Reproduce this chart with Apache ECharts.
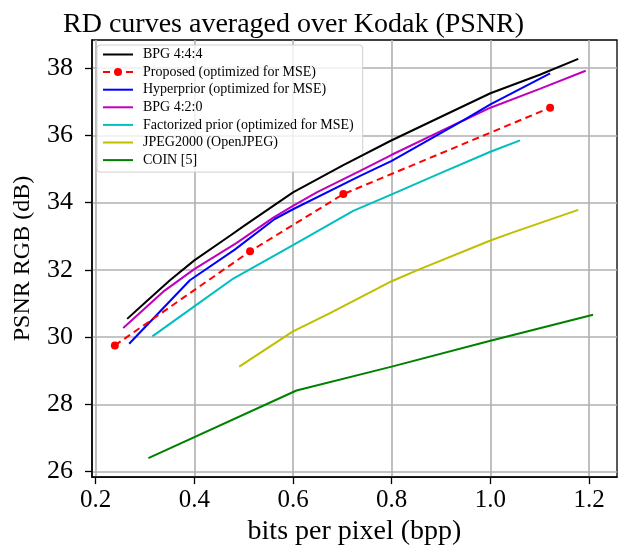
<!DOCTYPE html>
<html><head><meta charset="utf-8">
<script src="https://cdn.jsdelivr.net/npm/echarts@6/dist/echarts.min.js"></script>
<style>html,body{margin:0;padding:0;background:#fff}#c{width:633px;height:551px}</style>
</head><body><div id="c"></div>
<script>
const xTicks = [0.2, 0.4, 0.6, 0.8, 1.0, 1.2];
const yTicks = [26, 28, 30, 32, 34, 36, 38];

const bpg444X = [0.264, 0.3, 0.35, 0.4, 0.473, 0.5, 0.6, 0.7, 0.797, 0.9, 1.0, 1.1, 1.178];
const bpg444Y = [30.54, 31.02, 31.68, 32.28, 33.02, 33.3, 34.3, 35.1, 35.83, 36.55, 37.25, 37.8, 38.27];
const proposedX = [0.239, 0.513, 0.702, 1.121];
const proposedY = [29.75, 32.55, 34.25, 36.82];
const hyperX = [0.268, 0.391, 0.482, 0.563, 0.6, 0.736, 0.8, 0.945, 1.0, 1.121];
const hyperY = [29.80, 31.69, 32.6, 33.51, 33.8, 34.79, 35.24, 36.44, 36.92, 37.84];
const bpg420X = [0.256, 0.337, 0.4, 0.486, 0.56, 0.6, 0.648, 0.736, 0.8, 0.945, 1.0, 1.1, 1.193];
const bpg420Y = [30.27, 31.35, 32.02, 32.8, 33.55, 33.9, 34.3, 34.94, 35.42, 36.44, 36.82, 37.38, 37.92];
const factX = [0.315, 0.4, 0.479, 0.6, 0.722, 0.8, 0.9, 1.0, 1.06];
const factY = [30.02, 30.91, 31.74, 32.73, 33.75, 34.24, 34.88, 35.51, 35.85];
const jpegX = [0.491, 0.6, 0.675, 0.8, 0.857, 1.0, 1.047, 1.178];
const jpegY = [29.12, 30.17, 30.71, 31.66, 32.02, 32.87, 33.12, 33.78];
const coinX = [0.307, 0.607, 0.8, 1.0, 1.208];
const coinY = [26.40, 28.41, 29.12, 29.89, 30.66];

const names = ['BPG 4:4:4', 'Proposed (optimized for MSE)', 'Hyperprior (optimized for MSE)', 'BPG 4:2:0',
  'Factorized prior (optimized for MSE)', 'JPEG2000 (OpenJPEG)', 'COIN [5]'];
const colors = ['#000000', '#ff0000', '#0000ff', '#bf00bf', '#00bfbf', '#bfbf00', '#008000'];
const xs = [bpg444X, proposedX, hyperX, bpg420X, factX, jpegX, coinX];
const ys = [bpg444Y, proposedY, hyperY, bpg420Y, factY, jpegY, coinY];

const serif = 'Liberation Serif';
const series = names.map((n, i) => ({
  name: n, type: 'line',
  data: xs[i].map((x, j) => [x, ys[i][j]]),
  symbol: i === 1 ? 'circle' : 'none',
  symbolSize: 8,
  showSymbol: i === 1,
  lineStyle: { color: colors[i], width: 2, type: i === 1 ? [7, 4.5] : 'solid' },
  itemStyle: { color: i === 1 ? colors[i] : 'rgba(0,0,0,0)', borderWidth: 0 },
  animation: false,
  z: 10 - i
}));

const chart = echarts.init(document.getElementById('c'), null, { renderer: 'canvas' });
chart.setOption({
  backgroundColor: '#fff',
  animation: false,
  title: {
    text: 'RD curves averaged over Kodak (PSNR)', left: 58, top: 6,
    textStyle: { fontFamily: serif, fontWeight: 'normal', fontSize: 28, color: '#000' }
  },
  grid: { left: 92, right: 16, top: 40, bottom: 71, show: true, borderColor: '#000', borderWidth: 1.3, backgroundColor: '#fff' },
  legend: {
    orient: 'vertical', left: 97, top: 45, padding: [2.5, 9, 5, 5],
    itemWidth: 30, itemHeight: 10, itemGap: 3.6,
    backgroundColor: 'rgba(255,255,255,0.8)', borderColor: '#d0d0d0', borderWidth: 1, borderRadius: 3,
    textStyle: { fontFamily: serif, fontSize: 14, lineHeight: 14, color: '#000', padding: [0, 0, 0, 5] },
    data: names
  },
  xAxis: {
    type: 'value', min: 0.1927, max: 1.2565,
    name: 'bits per pixel (bpp)', nameLocation: 'middle', nameGap: 36,
    nameTextStyle: { fontFamily: serif, fontSize: 28, color: '#000' },
    axisLine: { lineStyle: { color: '#000', width: 1.5 } },
    axisTick: { show: true, length: 7, inside: false, customValues: xTicks, lineStyle: { color: '#000', width: 1.3 } },
    axisLabel: { customValues: xTicks, fontFamily: serif, fontSize: 25, color: '#000', margin: 11, formatter: v => v.toFixed(1) },
    splitLine: { show: true, lineStyle: { color: '#b0b0b0', width: 1.6 } }
  },
  yAxis: {
    type: 'value', min: 25.835, max: 38.833,
    name: 'PSNR RGB (dB)', nameLocation: 'middle', nameGap: 57, nameRotate: 90,
    nameTextStyle: { fontFamily: serif, fontSize: 24, color: '#000' },
    axisLine: { show: true, lineStyle: { color: '#000', width: 1.5 } },
    axisTick: { show: true, length: 7, inside: false, customValues: yTicks, lineStyle: { color: '#000', width: 1.3 } },
    axisLabel: { customValues: yTicks, fontFamily: serif, fontSize: 26, color: '#000', margin: 19 },
    splitLine: { show: true, lineStyle: { color: '#b0b0b0', width: 1.6 } }
  },
  series: series
});
</script></body></html>
